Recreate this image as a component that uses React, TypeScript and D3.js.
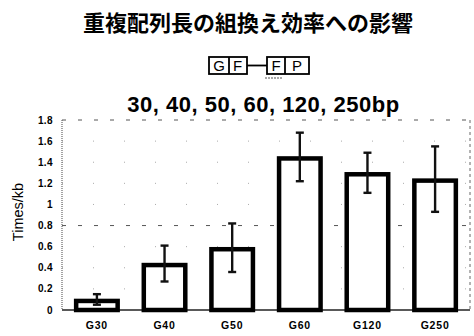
import React from "react";
import * as d3 from "d3";

const categories = ["G30", "G40", "G50", "G60", "G120", "G250"];
const values = [0.1, 0.44, 0.59, 1.45, 1.3, 1.24];
const errors = [0.05, 0.17, 0.23, 0.23, 0.19, 0.31];
const yTicks = [0, 0.2, 0.4, 0.6, 0.8, 1, 1.2, 1.4, 1.6, 1.8];
const title = "重複配列長の組換え効率への影響";
const subtitle = "30, 40, 50, 60, 120, 250bp";
const yLabel = "Times/kb";

export default function App() {
  const W = 474, H = 336;
  const left = 62, right = 470, top = 120, bottom = 310;
  const x = d3.scaleBand<string>().domain(categories).range([left, right]).paddingInner(0.32).paddingOuter(0.176);
  const y = d3.scaleLinear().domain([0, 1.8]).range([bottom, top]);
  const sw = 4.5;
  const latin = "'Liberation Sans', Arial, sans-serif";
  return (
    <svg width={W} height={H} style={{ position: "absolute", left: 0, top: 0, background: "#fff" }}>
      <rect x={0} y={0} width={W} height={H} fill="#fff" />
      <text x={248} y={31} textAnchor="middle" fontFamily="'Noto Sans CJK JP', sans-serif" fontWeight={700} fontSize={22} fill="#000">{title}</text>
      {/* construct diagram */}
      <g stroke="#000" strokeWidth={1.8} fill="#fff">
        <rect x={209} y={57} width={38} height={17} />
        <line x1={229} y1={57} x2={229} y2={74} />
        <line x1={247} y1={65.5} x2={267} y2={65.5} />
        <rect x={267} y={57} width={42} height={17} />
        <line x1={285} y1={57} x2={285} y2={74} />
      </g>
      <g fontFamily={latin} fontSize={15} fill="#000" textAnchor="middle">
        <text x={219} y={71}>G</text>
        <text x={237.5} y={71}>F</text>
        <text x={276} y={71}>F</text>
        <text x={297} y={71}>P</text>
      </g>
      <line x1={265} y1={78} x2={283} y2={78} stroke="#555" strokeWidth={1.2} strokeDasharray="2,1" />
      <text x={263.5} y={112} textAnchor="middle" fontFamily={latin} fontWeight={700} fontSize={22} letterSpacing={0.5} fill="#000">{subtitle}</text>
      {/* grid dashes */}
      {yTicks.filter(t => t > 0).map(t => (
        <line key={t} x1={left} x2={right} y1={y(t)} y2={y(t)} stroke={t === 0.8 || t === 1.8 ? "#555" : "#aaa"} strokeWidth={1} strokeDasharray={t === 0.8 || t === 1.8 ? "4,12" : "1,30"} />
      ))}
      <line x1={right} x2={right} y1={top} y2={bottom} stroke="#666" strokeWidth={1} strokeDasharray="3,3" />
      <line x1={left} x2={left} y1={top} y2={bottom} stroke="#666" strokeWidth={1.2} strokeDasharray="1,1" />
      <line x1={left} x2={right} y1={bottom} y2={bottom} stroke="#222" strokeWidth={1.5} />
      {yTicks.map(t => (
        <text key={t} x={53} y={y(t)} dy="0.35em" textAnchor="end" fontFamily={latin} fontWeight={700} fontSize={10} letterSpacing={0.4} fill="#000">{d3.format("~g")(t)}</text>
      ))}
      <text transform={`translate(23,${212}) rotate(-90)`} textAnchor="middle" fontFamily={latin} fontSize={14.5} fill="#000">{yLabel}</text>
      {categories.map((c, i) => {
        const bx = x(c)!;
        const bw = x.bandwidth();
        const yt = y(values[i]);
        const cx = bx + bw / 2;
        return (
          <g key={c}>
            <rect x={bx + sw / 2} y={yt + 1.5} width={bw - sw} height={bottom - yt - 1.5} fill="#fff" stroke="#000" strokeWidth={sw} />
            <line x1={cx} x2={cx} y1={y(values[i] + errors[i])} y2={y(values[i] - errors[i])} stroke="#111" strokeWidth={2.4} />
            <line x1={cx - 4} x2={cx + 4} y1={y(values[i] + errors[i])} y2={y(values[i] + errors[i])} stroke="#111" strokeWidth={2.4} />
            <line x1={cx - 4} x2={cx + 4} y1={y(values[i] - errors[i])} y2={y(values[i] - errors[i])} stroke="#111" strokeWidth={2.4} />
            <text x={cx} y={329} textAnchor="middle" fontFamily={latin} fontWeight={700} fontSize={10.5} letterSpacing={0.8} fill="#000">{c}</text>
          </g>
        );
      })}
    </svg>
  );
}
